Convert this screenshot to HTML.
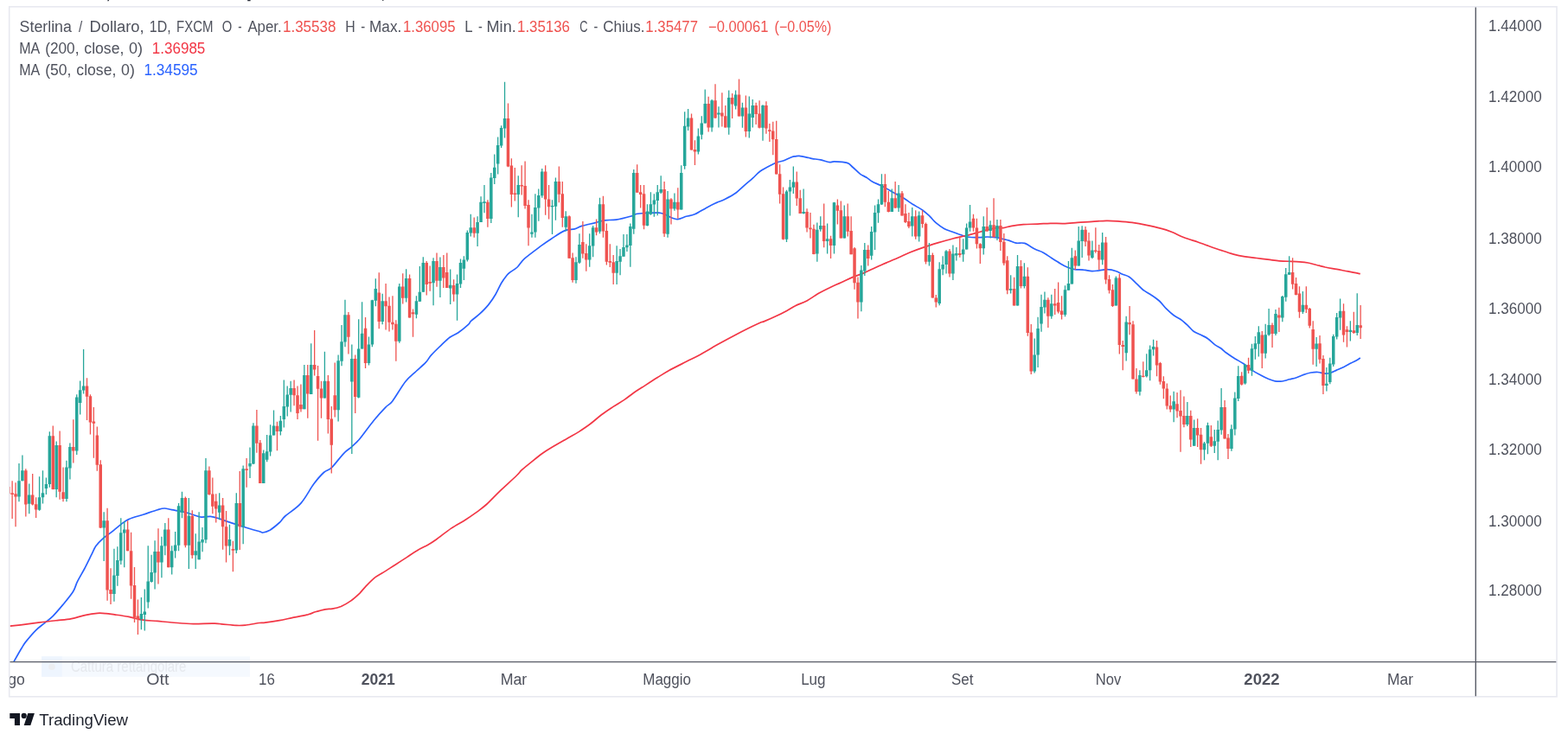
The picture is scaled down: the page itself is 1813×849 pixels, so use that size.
<!DOCTYPE html>
<html lang="it"><head><meta charset="utf-8"><title>Sterlina / Dollaro, 1D, FXCM</title>
<style>
html,body{margin:0;padding:0;background:#fff;}
body{width:1813px;height:849px;overflow:hidden;}
svg{display:block;}
.t{font-family:"Liberation Sans",sans-serif;}
</style></head><body>
<svg width="1813" height="849" viewBox="0 0 1813 849">
<rect width="1813" height="849" fill="#fff"/>
<path d="M124.6 0h1.6l-.6 1.3h-1.4zM286.2 0h3.4v1.2h-3.4zM442.2 0h1.2v.9h-1.2z" fill="#2a2e39"/>
<rect x="10.7" y="7.8" width="1789.3" height="798" fill="none" stroke="#e8e9f0" stroke-width="1.6"/>
<rect x="48" y="759.3" width="241" height="23.5" fill="#f5f9fe"/>
<rect x="48" y="759.3" width="23.7" height="23.5" fill="#eef5fe"/>
<circle cx="60" cy="771.3" r="3.8" fill="#eceef1"/>
<text y="776.9" class="t" font-size="17.6"><tspan x="81.95" textLength="133.48" lengthAdjust="spacingAndGlyphs" fill="#e6e9ee">Cattura rettangolare</tspan></text>
<defs><clipPath id="c"><rect x="11.5" y="8.6" width="1694.1" height="756.3"/></clipPath><clipPath id="d"><rect x="11.5" y="766.3" width="60" height="39"/></clipPath></defs>
<g clip-path="url(#c)">
<path d="M14.5 768.0C16.2 765.0 22.2 754.3 24.8 750.0C27.4 745.7 27.0 745.9 29.8 742.4C32.6 738.9 37.8 732.7 41.4 729.1C45.0 725.5 48.0 723.6 51.3 720.9C54.6 718.1 57.6 716.2 61.2 712.6C64.8 709.0 68.9 704.1 72.8 699.4C76.7 694.7 81.6 688.9 84.4 684.5C87.2 680.1 87.2 677.3 89.4 672.9C91.6 668.5 94.8 663.2 97.6 658.0C100.3 652.8 103.7 645.8 105.9 641.4C108.1 637.0 108.7 634.6 110.9 631.5C113.1 628.4 116.3 625.3 119.1 622.8C121.8 620.3 123.8 619.5 127.4 616.7C131.0 613.9 137.1 608.6 140.7 605.9C144.3 603.2 144.8 602.4 148.9 600.6C153.0 598.8 160.0 597.0 165.5 595.2C171.0 593.4 177.9 590.9 182.0 589.7C186.1 588.5 187.5 588.0 190.3 588.0C193.1 588.0 194.5 588.9 198.6 589.7C202.7 590.5 209.6 591.3 215.1 592.7C220.6 594.1 227.0 597.2 231.7 598.0C236.4 598.8 240.0 597.1 243.3 597.3C246.6 597.5 247.9 598.2 251.5 599.3C255.1 600.4 259.8 602.2 264.8 603.9C269.8 605.5 275.4 607.4 281.3 609.2C287.2 611.0 296.2 613.6 300.0 614.7C303.8 615.8 302.1 616.2 304.1 616.0C306.0 615.9 308.3 615.5 311.5 613.6C314.7 611.6 320.1 607.2 323.1 604.5C326.1 601.7 325.6 600.7 329.7 597.0C333.9 593.3 342.4 588.3 347.9 582.1C353.4 575.9 358.4 565.7 362.8 559.8C367.2 553.9 370.9 549.7 374.4 546.5C377.8 543.4 379.6 544.5 383.5 540.8C387.4 537.0 393.7 528.2 397.6 524.3C401.4 520.3 403.6 519.6 406.7 516.8C409.7 514.0 411.5 512.8 415.8 507.7C420.0 502.6 427.3 492.3 432.3 486.2C437.3 480.1 442.0 475.0 445.6 471.3C449.1 467.6 450.0 468.8 453.8 463.9C457.7 458.9 464.2 447.2 468.7 441.5C473.3 435.8 477.2 433.2 481.1 429.5C485.1 425.8 489.4 422.3 492.3 419.2C495.2 416.1 495.5 414.2 498.5 410.9C501.5 407.6 506.5 402.7 510.1 399.3C513.7 395.8 516.7 392.6 520.0 390.2C523.3 387.8 526.4 387.2 529.9 384.7C533.5 382.2 539.0 377.6 541.5 375.3C544.0 373.0 542.6 373.2 544.8 371.2C547.0 369.1 551.5 366.0 554.8 362.9C558.1 359.8 561.7 356.3 564.7 352.6C567.7 348.9 570.5 344.8 573.0 340.5C575.5 336.3 577.6 331.0 579.8 327.3C582.0 323.5 584.5 320.3 586.2 318.2C587.9 316.1 587.9 316.4 589.9 314.8C591.9 313.3 595.4 311.6 598.2 309.0C601.0 306.4 601.8 303.3 606.5 299.1C611.2 295.0 621.1 287.8 626.3 283.9C631.6 280.1 633.5 278.8 637.9 276.0C642.3 273.1 648.4 268.7 652.8 266.9C657.2 265.0 661.1 265.8 664.4 264.9C667.7 264.0 668.8 262.6 672.7 261.4C676.5 260.2 683.1 258.9 687.6 257.8C692.0 256.7 695.0 255.4 699.1 254.8C703.3 254.2 707.4 254.9 712.4 254.1C717.3 253.4 725.1 251.4 728.9 250.3C732.8 249.2 732.8 248.2 735.6 247.5C738.3 246.9 741.1 246.7 745.5 246.5C749.9 246.3 757.9 245.8 762.0 246.2C766.2 246.6 767.8 247.7 770.3 248.7C772.8 249.6 774.7 251.2 776.9 252.0C779.1 252.8 780.8 253.9 783.5 253.6C786.3 253.4 790.2 251.3 793.5 250.3C796.8 249.4 799.5 249.5 803.4 247.8C807.3 246.2 812.5 242.6 816.6 240.4C820.8 238.2 824.6 236.3 828.2 234.6C831.8 233.0 834.3 232.5 838.1 230.5C842.0 228.5 847.5 225.5 851.4 222.7C855.2 219.9 858.1 216.7 861.3 213.9C864.5 211.1 867.6 208.6 870.6 205.9C873.6 203.2 875.7 200.4 879.4 197.8C883.1 195.2 889.3 192.1 892.6 190.4C896.0 188.6 897.3 188.2 899.5 187.5C901.8 186.7 903.7 186.8 906.3 185.8C908.9 184.8 913.0 182.5 915.3 181.7C917.5 180.9 918.2 181.0 919.6 180.8C921.1 180.6 921.5 180.2 924.1 180.4C926.7 180.7 932.6 182.0 935.1 182.5C937.7 183.1 937.2 183.2 939.5 183.6C941.8 184.0 945.6 184.2 948.9 184.9C952.2 185.6 956.6 187.3 959.2 187.6C961.9 188.0 961.2 186.8 964.6 186.9C968.0 187.0 975.9 187.3 979.5 188.4C983.1 189.5 983.6 191.4 986.1 193.5C988.6 195.6 991.8 199.2 994.4 201.1C997.0 203.1 999.4 203.7 1001.9 205.3C1004.3 206.8 1006.0 208.7 1008.9 210.3C1011.7 211.9 1015.1 212.8 1018.9 214.8C1022.8 216.7 1027.8 219.7 1032.2 222.2C1036.6 224.7 1041.5 227.3 1045.4 229.6C1049.3 232.0 1051.8 234.0 1055.3 236.3C1058.9 238.5 1063.6 240.9 1066.9 243.2C1070.2 245.6 1072.7 248.0 1075.2 250.3C1077.7 252.7 1079.1 255.1 1081.8 257.4C1084.6 259.8 1088.7 262.7 1091.7 264.4C1094.8 266.1 1097.3 266.7 1100.0 267.7C1102.8 268.8 1105.3 269.6 1108.3 270.7C1111.3 271.7 1114.4 273.3 1118.2 274.0C1122.1 274.7 1127.6 274.7 1131.5 274.7C1135.3 274.7 1138.1 274.0 1141.4 274.0C1144.7 274.0 1148.0 274.2 1151.3 274.7C1154.6 275.1 1158.7 276.2 1161.2 276.8C1163.8 277.4 1164.3 277.4 1166.6 278.1C1168.9 278.8 1171.9 280.6 1174.9 281.1C1177.9 281.7 1181.2 280.3 1184.8 281.4C1188.4 282.6 1192.8 286.3 1196.4 288.1C1200.0 289.9 1203.0 290.4 1206.3 292.2C1209.6 294.0 1213.0 296.7 1216.3 298.8C1219.6 300.9 1223.2 303.2 1226.2 304.9C1229.2 306.7 1231.7 308.1 1234.5 309.2C1237.2 310.3 1239.7 311.1 1242.7 311.6C1245.8 312.0 1249.4 311.7 1252.7 312.1C1256.0 312.4 1259.6 313.6 1262.6 313.7C1265.6 313.8 1267.8 313.2 1270.9 312.9C1273.9 312.5 1277.5 311.4 1280.8 311.6C1284.1 311.7 1288.0 312.8 1290.7 313.7C1293.5 314.6 1294.9 315.9 1297.3 317.0C1299.8 318.1 1302.9 318.5 1305.6 320.3C1308.4 322.1 1311.1 325.2 1313.9 327.8C1316.7 330.3 1319.4 333.6 1322.2 335.7C1324.9 337.9 1327.4 338.6 1330.4 340.7C1333.5 342.7 1337.3 345.2 1340.4 348.0C1343.4 350.7 1345.9 354.5 1348.6 357.2C1351.4 360.0 1354.2 362.5 1356.9 364.5C1359.7 366.6 1362.4 367.5 1365.2 369.5C1368.0 371.5 1371.0 374.3 1373.5 376.6C1376.0 378.9 1377.6 381.4 1380.1 383.2C1382.6 385.0 1385.6 385.9 1388.4 387.3C1391.1 388.7 1393.9 389.8 1396.6 391.8C1399.4 393.7 1402.4 397.1 1404.9 398.9C1407.4 400.7 1409.3 401.1 1411.5 402.7C1413.7 404.3 1415.4 406.3 1418.1 408.3C1420.9 410.4 1424.8 412.9 1428.1 414.9C1431.4 417.0 1434.7 418.5 1438.0 420.8C1441.3 423.0 1444.5 426.2 1447.8 428.4C1451.1 430.6 1454.7 432.3 1457.8 433.9C1460.8 435.5 1463.3 436.8 1466.0 438.0C1468.8 439.1 1471.6 440.3 1474.3 440.8C1477.1 441.3 1479.8 441.3 1482.6 441.0C1485.4 440.6 1488.1 439.5 1490.9 438.8C1493.6 438.1 1496.4 437.6 1499.1 436.7C1501.9 435.8 1504.7 434.3 1507.4 433.4C1510.2 432.4 1512.9 431.5 1515.7 431.0C1518.5 430.6 1521.2 430.3 1524.0 430.5C1526.7 430.7 1529.8 432.1 1532.2 432.2C1534.7 432.3 1536.7 431.7 1538.9 431.0C1541.1 430.3 1543.0 429.2 1545.5 428.1C1548.0 427.0 1551.0 425.7 1553.8 424.4C1556.5 423.1 1559.5 421.4 1562.0 420.1C1564.5 418.8 1566.9 417.8 1568.6 416.8C1570.4 415.8 1572.1 414.5 1572.8 414.0" fill="none" stroke="#2962ff" stroke-width="1.7" stroke-linejoin="round"/>
<path d="M11.6 724.2C15.2 723.8 26.8 722.5 33.1 721.7C39.4 720.9 44.1 720.2 49.6 719.5C55.1 718.8 60.7 718.2 66.2 717.6C71.7 717.0 77.2 716.7 82.7 715.6C88.2 714.5 94.3 712.3 99.3 711.3C104.3 710.2 108.6 709.6 112.5 709.3C116.4 709.0 119.2 709.3 122.5 709.6C125.8 709.9 128.0 710.3 132.4 710.9C136.8 711.5 143.4 712.3 148.9 713.4C154.4 714.5 160.0 716.4 165.5 717.2C171.0 718.0 176.5 717.9 182.0 718.4C187.5 718.9 191.7 719.5 198.6 720.0C205.5 720.5 215.1 721.5 223.4 721.7C231.7 721.9 239.9 720.9 248.2 721.2C256.5 721.5 266.9 723.1 273.0 723.4C279.1 723.7 280.1 723.5 284.6 723.0C289.1 722.5 296.3 721.0 300.0 720.5C303.7 720.0 302.7 720.7 306.5 720.2C310.4 719.7 317.6 718.7 323.1 717.7C328.6 716.7 334.1 715.2 339.6 714.1C345.2 712.9 352.1 711.8 356.2 710.8C360.3 709.7 361.2 708.8 364.5 707.8C367.8 706.8 372.7 705.4 376.0 704.8C379.4 704.2 381.3 704.7 384.3 704.1C387.4 703.6 390.7 703.0 394.3 701.5C397.8 699.9 402.3 697.4 405.8 694.9C409.4 692.3 413.0 688.9 415.8 686.3C418.5 683.6 419.4 681.9 422.4 678.8C425.4 675.7 430.1 670.8 434.0 667.7C437.8 664.7 441.7 663.0 445.6 660.6C449.4 658.2 453.0 655.8 457.1 653.2C461.3 650.5 466.2 647.3 470.4 644.6C474.5 641.9 477.8 639.4 482.0 637.0C486.1 634.5 491.3 632.2 495.2 630.0C499.1 627.8 500.7 626.6 505.1 623.5C509.5 620.3 516.2 614.8 521.7 611.1C527.2 607.4 533.3 604.3 538.2 601.2C543.2 598.0 547.3 595.1 551.5 592.1C555.6 589.0 558.6 587.0 563.0 583.0C567.5 579.0 572.2 573.6 577.9 568.1C583.7 562.6 593.2 554.1 597.4 550.0C601.6 545.9 600.3 546.4 603.2 543.7C606.1 541.1 610.9 537.2 614.8 534.1C618.6 531.0 622.5 527.8 626.3 525.0C630.2 522.3 633.2 520.4 637.9 517.6C642.6 514.7 649.2 511.0 654.5 508.0C659.7 504.9 664.7 502.3 669.4 499.4C674.0 496.4 678.2 493.6 682.6 490.3C687.0 486.9 691.4 482.8 695.8 479.5C700.2 476.2 704.7 473.3 709.1 470.4C713.5 467.5 718.5 464.7 722.3 462.1C726.2 459.5 728.4 457.4 732.2 454.7C736.1 452.0 740.8 449.1 745.5 446.1C750.2 443.0 755.7 439.4 760.4 436.5C765.1 433.6 768.1 431.6 773.6 428.5C779.1 425.5 787.4 421.4 793.5 418.3C799.5 415.2 803.7 413.5 810.0 410.0C816.4 406.5 824.4 401.6 831.5 397.6C838.7 393.6 846.7 389.3 853.0 386.0C859.4 382.6 865.3 379.7 869.8 377.5C874.3 375.3 877.8 373.7 880.0 372.7C882.3 371.8 880.5 373.0 883.2 371.9C886.0 370.8 892.1 368.2 896.5 366.1C900.9 364.1 905.9 361.6 909.7 359.5C913.6 357.4 915.8 355.6 919.6 353.7C923.5 351.8 928.5 350.3 932.9 347.9C937.3 345.6 941.7 342.2 946.1 339.6C950.5 337.1 954.9 334.8 959.4 332.7C963.8 330.5 968.2 328.8 972.6 326.7C977.0 324.7 981.4 322.5 985.8 320.6C990.2 318.8 994.7 317.5 999.1 315.6C1003.5 313.8 1007.9 311.5 1012.3 309.5C1016.7 307.5 1021.1 305.5 1025.6 303.6C1030.0 301.6 1034.4 299.9 1038.8 297.9C1043.2 296.0 1047.1 294.0 1052.0 292.0C1057.0 290.0 1063.1 287.8 1068.6 285.9C1074.1 284.0 1079.6 282.3 1085.1 280.6C1090.6 279.0 1096.2 277.4 1101.7 276.0C1107.2 274.6 1112.7 273.7 1118.2 272.3C1123.7 271.0 1129.3 269.2 1134.8 267.7C1140.3 266.2 1147.1 264.3 1151.3 263.6C1155.5 262.9 1156.9 264.0 1160.0 263.6C1163.1 263.2 1166.1 261.9 1169.9 261.3C1173.8 260.6 1178.2 260.0 1183.2 259.6C1188.1 259.2 1194.5 259.3 1199.7 259.1C1205.0 258.9 1209.6 258.4 1214.6 258.3C1219.6 258.2 1224.3 258.7 1229.5 258.6C1234.7 258.5 1240.5 257.8 1246.0 257.4C1251.6 257.1 1257.1 256.6 1262.6 256.3C1268.1 255.9 1274.2 255.4 1279.1 255.3C1284.1 255.2 1287.4 255.4 1292.4 255.8C1297.3 256.2 1303.4 256.7 1308.9 257.4C1314.4 258.2 1320.0 259.2 1325.5 260.3C1331.0 261.4 1337.1 262.7 1342.0 264.1C1347.0 265.4 1350.9 266.8 1355.3 268.5C1359.7 270.3 1363.6 272.6 1368.5 274.5C1373.5 276.4 1380.3 278.4 1385.0 280.0C1389.6 281.6 1391.9 282.5 1396.5 284.1C1401.2 285.8 1408.1 288.3 1413.1 289.9C1418.1 291.6 1421.9 292.9 1426.3 294.1C1430.7 295.2 1435.2 296.1 1439.6 296.9C1444.0 297.6 1448.4 298.0 1452.8 298.5C1457.2 299.1 1461.6 299.6 1466.0 300.2C1470.5 300.7 1474.9 301.5 1479.3 301.8C1483.7 302.2 1488.7 302.2 1492.5 302.3C1496.4 302.5 1499.1 302.6 1502.5 302.8C1505.8 303.1 1509.1 303.4 1512.4 304.0C1515.7 304.6 1519.0 305.6 1522.3 306.5C1525.6 307.3 1528.4 308.1 1532.2 309.0C1536.1 309.8 1541.1 310.6 1545.5 311.4C1549.9 312.3 1554.2 313.0 1558.7 313.9C1563.3 314.8 1570.4 316.3 1572.8 316.7" fill="none" stroke="#f23645" stroke-width="1.7" stroke-linejoin="round"/>
<path d="M21.99 536.1V580.3M25.91 526.5V556.3M33.77 559.6V594.3M45.55 551.3V590.7M49.48 544.3V582.4M53.40 552.6V572.0M57.33 499.2V563.7M65.18 510.5V575.3M76.96 532.8V580.3M80.89 512.4V554.6M88.75 456.2V526.0M92.67 440.5V479.4M96.60 404.1V455.4M120.16 592.3V648.9M131.94 634.8V695.7M135.87 632.3V677.8M139.80 599.3V653.0M143.72 602.9V656.3M163.36 691.1V728.3M167.29 681.5V729.5M171.21 631.2V703.5M175.14 641.8V673.7M179.07 625.2V681.5M186.92 620.8V668.2M190.85 605.1V642.3M198.70 631.2V664.6M202.63 615.0V645.6M206.56 581.9V637.3M210.48 568.7V599.3M218.34 576.1V658.0M226.19 617.3V658.0M230.12 592.3V647.2M234.04 610.0V638.2M237.97 530.1V628.3M253.68 570.3V601.3M265.46 606.7V642.3M273.31 570.3V640.1M281.17 538.4V629.3M289.02 517.4V553.0M292.95 489.3V537.0M304.73 520.6V559.0M308.66 503.1V534.2M312.59 491.2V527.6M316.51 474.6V503.6M324.37 480.9V503.6M328.29 439.5V494.5M332.22 446.5V481.6M336.15 440.7V476.6M351.86 422.0V473.3M359.71 397.3V456.1M375.42 406.7V460.5M391.12 410.5V487.5M395.05 376.1V423.3M398.98 346.8V401.3M406.83 398.5V525.1M414.69 369.2V460.5M418.61 349.3V403.4M426.47 389.4V422.5M430.39 346.8V401.3M434.32 322.3V354.3M442.18 339.7V375.3M461.81 328.1V396.8M469.66 311.3V349.6M481.45 342.2V368.2M485.37 307.9V348.8M489.30 297.2V337.7M501.08 298.3V353.3M508.93 297.5V343.9M520.72 311.6V352.1M528.57 317.4V370.8M532.50 299.5V333.1M536.42 296.2V324.0M540.35 266.4V302.5M544.28 247.8V273.5M552.13 250.3V285.1M556.06 227.2V256.9M559.99 213.9V246.2M567.84 199.9V258.1M571.77 178.4V213.1M575.69 158.5V201.6M579.62 145.3V170.9M583.55 94.8V159.4M599.26 203.2V251.2M614.96 247.8V274.7M618.89 224.3V274.7M622.82 218.4V255.8M626.75 194.9V228.8M638.53 231.3V271.0M642.45 205.6V254.8M654.23 244.2V267.4M666.01 297.2V327.7M669.94 270.2V304.9M681.72 270.2V308.7M685.65 261.1V297.2M693.50 228.8V270.2M713.14 284.3V328.9M717.07 287.9V318.2M720.99 271.0V296.7M724.92 271.0V290.9M728.85 258.6V308.7M732.77 196.1V270.7M748.48 236.3V261.4M752.41 222.2V248.7M756.34 224.3V250.8M760.26 213.9V249.2M764.19 203.2V223.9M772.04 221.0V274.7M779.90 223.4V243.7M787.75 191.3V242.6M791.68 129.2V195.8M795.61 125.9V151.1M807.39 148.6V178.4M811.31 134.2V161.3M815.24 103.4V142.8M823.10 115.0V152.4M830.95 123.3V147.4M842.73 104.4V155.7M850.58 104.4V126.6M858.44 118.8V147.8M866.29 111.4V159.4M870.22 115.0V147.4M882.00 121.3V162.7M909.49 219.7V280.1M913.42 208.1V249.5M917.34 192.4V223.9M929.12 218.4V247.5M944.83 257.4V302.8M948.76 250.3V267.7M956.61 258.6V293.4M964.47 233.8V293.4M976.25 237.6V275.6M995.88 307.1V360.3M999.81 280.9V319.0M1007.66 261.9V300.5M1011.59 237.6V288.9M1015.52 230.5V257.8M1019.45 201.2V237.1M1031.23 218.4V244.9M1039.08 213.9V244.9M1054.79 239.9V273.5M1062.64 244.5V279.6M1074.42 280.9V307.4M1086.20 303.2V353.2M1090.13 296.2V318.2M1094.06 289.2V316.5M1101.91 283.4V323.9M1105.84 285.9V301.6M1113.69 276.3V302.8M1117.62 258.6V288.4M1121.55 237.1V267.7M1137.25 250.3V294.5M1145.11 255.3V275.6M1152.96 254.1V278.0M1168.67 318.2V339.4M1176.52 295.0V353.4M1184.38 304.3V333.6M1196.16 391.4V431.5M1200.09 366.7V424.9M1204.01 340.7V383.7M1207.94 337.4V362.5M1215.79 340.7V368.8M1231.50 330.3V366.2M1235.43 302.1V335.7M1239.36 286.7V328.6M1247.21 261.9V307.6M1251.14 261.3V298.0M1262.92 278.5V299.3M1274.70 269.0V306.3M1290.41 319.5V353.4M1302.19 365.8V417.6M1317.90 428.2V457.6M1325.75 409.3V436.5M1329.68 399.4V440.3M1333.61 392.8V411.6M1357.17 452.7V488.2M1372.88 465.1V492.9M1380.73 485.4V515.7M1392.51 511.1V532.3M1396.44 488.7V525.2M1404.29 497.0V524.0M1408.22 486.6V532.3M1412.14 449.0V502.8M1423.93 491.2V521.8M1427.85 453.5V503.6M1431.78 423.2V463.9M1439.63 420.9V444.7M1447.49 397.8V434.7M1451.41 388.9V415.7M1455.34 377.3V412.4M1463.20 374.7V414.4M1467.12 356.9V388.4M1474.98 358.1V387.9M1482.83 342.1V372.3M1486.76 310.1V348.7M1490.68 296.2V317.7M1506.39 337.1V363.1M1522.10 390.0V423.9M1533.88 425.1V452.6M1537.81 413.7V444.3M1541.74 386.7V423.9M1545.66 361.9V392.5M1549.59 345.4V381.8M1561.37 371.3V394.5M1569.22 339.2V387.9" stroke="#26a69a" stroke-width="1.3" fill="none"/>
<path d="M20.24 556.3h3.5V574.5h-3.5zM24.16 544.3h3.5V556.3h-3.5zM32.02 572.5h3.5V582.7h-3.5zM43.80 575.3h3.5V589.7h-3.5zM47.73 570.3h3.5V575.3h-3.5zM51.65 559.9h3.5V564.9h-3.5zM55.58 504.2h3.5V559.9h-3.5zM63.43 514.9h3.5V565.9h-3.5zM75.21 540.5h3.5V576.9h-3.5zM79.14 517.0h3.5V541.4h-3.5zM87.00 459.5h3.5V521.5h-3.5zM90.92 451.2h3.5V466.1h-3.5zM94.85 446.6h3.5V451.6h-3.5zM118.41 602.3h3.5V610.5h-3.5zM130.19 665.4h3.5V687.0h-3.5zM134.12 648.1h3.5V665.9h-3.5zM138.05 616.3h3.5V648.4h-3.5zM141.97 612.5h3.5V616.6h-3.5zM161.61 710.1h3.5V715.9h-3.5zM165.54 707.6h3.5V710.9h-3.5zM169.46 672.6h3.5V696.4h-3.5zM173.39 662.1h3.5V672.9h-3.5zM177.32 638.1h3.5V662.6h-3.5zM185.17 631.2h3.5V650.5h-3.5zM189.10 612.5h3.5V631.5h-3.5zM196.95 637.3h3.5V656.3h-3.5zM200.88 630.5h3.5V637.3h-3.5zM204.81 585.2h3.5V630.7h-3.5zM208.73 576.1h3.5V592.7h-3.5zM216.59 596.8h3.5V630.7h-3.5zM224.44 637.3h3.5V642.3h-3.5zM228.37 626.5h3.5V647.2h-3.5zM232.29 624.1h3.5V627.4h-3.5zM236.22 544.3h3.5V624.3h-3.5zM251.93 584.4h3.5V592.7h-3.5zM263.71 624.1h3.5V631.6h-3.5zM271.56 581.9h3.5V636.5h-3.5zM279.42 542.2h3.5V609.2h-3.5zM287.27 536.1h3.5V539.4h-3.5zM291.20 492.6h3.5V536.4h-3.5zM302.98 524.3h3.5V559.0h-3.5zM306.91 522.3h3.5V531.7h-3.5zM310.84 503.6h3.5V522.6h-3.5zM314.76 492.5h3.5V503.6h-3.5zM322.62 486.7h3.5V499.1h-3.5zM326.54 470.1h3.5V484.9h-3.5zM330.47 456.4h3.5V470.5h-3.5zM334.40 449.0h3.5V456.7h-3.5zM350.11 434.1h3.5V473.3h-3.5zM357.96 422.1h3.5V456.1h-3.5zM373.67 440.7h3.5V460.5h-3.5zM389.38 417.2h3.5V474.3h-3.5zM393.30 395.2h3.5V417.8h-3.5zM397.23 364.2h3.5V395.6h-3.5zM405.08 415.0h3.5V441.5h-3.5zM412.94 403.4h3.5V459.7h-3.5zM416.86 385.7h3.5V403.4h-3.5zM424.72 398.5h3.5V420.0h-3.5zM428.64 347.2h3.5V398.5h-3.5zM432.57 333.9h3.5V347.7h-3.5zM440.43 348.3h3.5V372.0h-3.5zM460.06 331.4h3.5V394.7h-3.5zM467.91 322.0h3.5V344.7h-3.5zM479.70 348.3h3.5V363.7h-3.5zM483.62 337.7h3.5V348.8h-3.5zM487.55 304.1h3.5V337.7h-3.5zM499.33 302.1h3.5V327.3h-3.5zM507.18 309.1h3.5V324.8h-3.5zM518.97 329.8h3.5V333.4h-3.5zM526.82 328.1h3.5V340.5h-3.5zM530.75 304.1h3.5V328.5h-3.5zM534.67 300.5h3.5V310.8h-3.5zM538.60 269.0h3.5V300.5h-3.5zM542.53 263.2h3.5V269.4h-3.5zM550.38 256.9h3.5V269.7h-3.5zM554.31 233.8h3.5V256.9h-3.5zM558.24 233.3h3.5V234.9h-3.5zM566.09 205.6h3.5V253.1h-3.5zM570.02 193.8h3.5V206.0h-3.5zM573.94 168.0h3.5V189.5h-3.5zM577.87 148.1h3.5V168.5h-3.5zM581.80 137.0h3.5V148.6h-3.5zM597.51 213.9h3.5V225.0h-3.5zM613.21 268.5h3.5V270.7h-3.5zM617.14 239.9h3.5V268.5h-3.5zM621.07 226.0h3.5V240.4h-3.5zM625.00 198.5h3.5V226.3h-3.5zM636.78 237.9h3.5V239.2h-3.5zM640.70 210.1h3.5V238.7h-3.5zM652.48 250.3h3.5V262.7h-3.5zM664.26 303.3h3.5V323.9h-3.5zM668.19 282.9h3.5V303.8h-3.5zM679.97 284.3h3.5V300.5h-3.5zM683.90 263.2h3.5V284.6h-3.5zM691.75 236.3h3.5V267.7h-3.5zM711.39 302.1h3.5V315.7h-3.5zM715.32 296.2h3.5V302.8h-3.5zM719.24 285.9h3.5V296.7h-3.5zM723.17 283.4h3.5V286.2h-3.5zM727.10 261.9h3.5V283.9h-3.5zM731.02 199.9h3.5V264.7h-3.5zM746.73 244.5h3.5V261.1h-3.5zM750.66 236.3h3.5V247.8h-3.5zM754.59 231.6h3.5V236.6h-3.5zM758.51 222.2h3.5V232.1h-3.5zM762.44 218.9h3.5V222.7h-3.5zM770.29 230.5h3.5V270.7h-3.5zM778.15 233.8h3.5V241.6h-3.5zM786.00 199.9h3.5V242.6h-3.5zM789.93 145.8h3.5V192.1h-3.5zM793.86 136.5h3.5V146.5h-3.5zM805.64 157.4h3.5V175.6h-3.5zM809.56 142.5h3.5V155.7h-3.5zM813.49 120.0h3.5V142.5h-3.5zM821.35 116.3h3.5V147.4h-3.5zM829.20 130.4h3.5V132.6h-3.5zM840.98 113.0h3.5V147.4h-3.5zM848.83 109.4h3.5V122.6h-3.5zM856.69 124.6h3.5V134.5h-3.5zM864.54 131.6h3.5V151.9h-3.5zM868.47 122.1h3.5V135.9h-3.5zM880.25 122.1h3.5V147.8h-3.5zM907.74 221.4h3.5V276.8h-3.5zM911.67 216.4h3.5V221.4h-3.5zM915.59 210.6h3.5V216.7h-3.5zM927.37 244.9h3.5V247.0h-3.5zM943.08 265.7h3.5V293.4h-3.5zM947.01 261.1h3.5V265.2h-3.5zM954.86 276.3h3.5V279.0h-3.5zM962.72 234.3h3.5V283.9h-3.5zM974.50 250.3h3.5V275.6h-3.5zM994.13 312.4h3.5V349.6h-3.5zM998.06 288.9h3.5V313.5h-3.5zM1005.91 268.0h3.5V295.8h-3.5zM1009.84 245.9h3.5V268.5h-3.5zM1013.77 236.3h3.5V246.2h-3.5zM1017.70 213.1h3.5V236.6h-3.5zM1029.48 229.3h3.5V244.9h-3.5zM1037.33 223.4h3.5V240.4h-3.5zM1053.04 250.3h3.5V261.4h-3.5zM1060.89 249.2h3.5V273.5h-3.5zM1072.67 295.0h3.5V302.8h-3.5zM1084.45 311.2h3.5V350.9h-3.5zM1088.38 306.1h3.5V311.6h-3.5zM1092.31 290.5h3.5V306.1h-3.5zM1100.16 293.4h3.5V316.5h-3.5zM1104.09 292.9h3.5V295.5h-3.5zM1111.94 288.4h3.5V294.2h-3.5zM1115.87 263.6h3.5V288.4h-3.5zM1119.80 256.5h3.5V263.6h-3.5zM1135.50 261.9h3.5V287.2h-3.5zM1143.36 260.3h3.5V266.9h-3.5zM1151.21 261.1h3.5V274.3h-3.5zM1166.92 334.1h3.5V335.7h-3.5zM1174.77 307.9h3.5V353.4h-3.5zM1182.63 319.8h3.5V331.1h-3.5zM1194.41 410.5h3.5V429.5h-3.5zM1198.34 379.9h3.5V410.5h-3.5zM1202.26 355.1h3.5V374.4h-3.5zM1206.19 346.8h3.5V355.6h-3.5zM1214.04 351.3h3.5V365.8h-3.5zM1229.75 335.2h3.5V363.9h-3.5zM1233.68 328.1h3.5V335.7h-3.5zM1237.61 298.3h3.5V328.6h-3.5zM1245.46 278.5h3.5V307.6h-3.5zM1249.39 265.7h3.5V279.0h-3.5zM1261.17 289.4h3.5V298.0h-3.5zM1272.95 280.6h3.5V300.5h-3.5zM1288.66 321.5h3.5V353.4h-3.5zM1300.44 372.4h3.5V408.3h-3.5zM1316.15 434.1h3.5V453.0h-3.5zM1324.00 428.2h3.5V435.3h-3.5zM1327.93 404.3h3.5V428.2h-3.5zM1331.86 401.0h3.5V404.3h-3.5zM1355.42 464.3h3.5V473.4h-3.5zM1371.12 481.0h3.5V490.9h-3.5zM1378.98 494.9h3.5V515.7h-3.5zM1390.76 512.7h3.5V520.2h-3.5zM1394.69 492.1h3.5V512.7h-3.5zM1402.54 510.3h3.5V515.7h-3.5zM1406.47 497.0h3.5V510.8h-3.5zM1410.39 471.0h3.5V497.5h-3.5zM1422.18 496.2h3.5V519.0h-3.5zM1426.10 460.6h3.5V496.5h-3.5zM1430.03 435.0h3.5V461.1h-3.5zM1437.88 422.1h3.5V443.6h-3.5zM1445.74 403.3h3.5V428.9h-3.5zM1449.66 397.2h3.5V403.8h-3.5zM1453.59 384.3h3.5V397.8h-3.5zM1461.45 387.2h3.5V408.7h-3.5zM1465.37 376.0h3.5V387.2h-3.5zM1473.23 363.1h3.5V385.9h-3.5zM1481.08 342.9h3.5V367.4h-3.5zM1485.01 317.2h3.5V343.7h-3.5zM1488.93 315.1h3.5V317.7h-3.5zM1504.64 352.8h3.5V360.8h-3.5zM1520.35 397.5h3.5V403.8h-3.5zM1532.13 443.8h3.5V445.9h-3.5zM1536.06 420.6h3.5V442.1h-3.5zM1539.99 388.9h3.5V421.4h-3.5zM1543.91 366.9h3.5V389.5h-3.5zM1547.84 359.8h3.5V367.4h-3.5zM1559.62 381.8h3.5V383.9h-3.5zM1567.47 376.0h3.5V385.1h-3.5z" fill="#26a69a"/>
<path d="M10.21 563.0V571.2M14.13 556.3V600.1M18.06 558.2V609.2M29.84 542.2V597.6M37.69 548.0V584.4M41.62 575.3V599.0M61.26 492.6V566.2M69.11 498.4V577.8M73.04 540.5V580.3M84.82 485.2V535.6M100.53 437.2V486.0M104.45 456.2V502.5M108.38 471.1V529.8M112.31 493.4V544.7M116.23 532.3V611.0M124.09 587.7V694.7M128.02 657.2V699.0M147.65 602.3V637.3M151.58 615.8V692.7M155.50 656.0V720.0M159.43 693.6V734.1M182.99 611.2V675.4M194.77 599.3V656.3M214.41 574.5V633.2M222.26 590.2V646.1M241.90 539.4V572.8M245.83 552.6V594.3M249.75 571.2V604.6M257.61 576.1V635.7M261.53 591.0V650.5M269.39 625.8V661.3M277.24 545.0V636.0M285.10 530.1V563.7M296.88 474.1V523.7M300.80 509.0V559.0M320.44 487.8V521.3M340.07 439.5V469.3M344.00 446.5V484.9M347.93 444.5V476.6M355.78 422.0V483.7M363.64 381.9V434.6M367.56 423.0V509.7M371.49 440.7V483.7M379.34 434.1V501.4M383.27 470.0V547.4M387.20 419.5V482.6M402.91 360.9V409.5M410.76 410.5V477.9M422.54 367.0V426.1M438.25 315.2V380.3M446.10 328.1V381.4M450.03 343.4V383.6M453.96 342.2V381.4M457.88 370.3V417.8M465.74 316.2V351.6M473.59 317.4V367.5M477.52 357.6V389.7M493.23 302.1V341.4M497.15 307.4V336.7M505.01 292.5V331.8M512.86 295.0V333.1M516.79 292.5V333.1M524.64 323.2V348.8M548.21 251.5V274.7M563.91 231.3V262.7M587.48 119.6V193.3M591.40 183.3V239.6M595.33 194.1V232.6M603.18 191.3V225.5M607.11 186.6V241.6M611.04 231.3V284.3M630.67 191.3V248.7M634.60 213.9V253.6M646.38 192.4V234.3M650.31 210.1V262.7M658.16 249.2V299.1M662.09 292.5V326.7M673.87 256.1V298.8M677.80 282.3V313.7M689.58 253.6V272.3M697.43 226.8V274.7M701.36 258.6V306.6M705.29 282.3V309.1M709.21 295.0V328.9M736.70 190.3V222.7M740.63 213.9V240.4M744.56 213.9V265.2M768.12 210.1V274.0M775.97 229.3V259.4M783.83 217.2V252.8M799.53 131.6V173.4M803.46 162.3V191.1M819.17 111.7V152.4M827.02 97.3V137.0M834.88 107.2V146.5M838.80 122.1V147.4M846.66 108.1V137.0M854.51 91.5V134.5M862.37 110.5V158.5M874.15 118.8V144.1M878.07 116.3V148.6M885.93 117.2V154.7M889.85 143.1V164.0M893.78 140.8V179.2M897.71 139.8V201.5M901.63 190.3V235.4M905.56 216.4V277.6M921.27 198.5V237.9M925.20 219.7V247.0M933.05 241.2V268.5M936.98 245.9V275.6M940.91 259.8V294.2M952.69 235.4V286.2M960.54 272.7V299.1M968.39 230.5V259.4M972.32 232.6V275.6M980.18 235.4V273.5M984.10 250.3V294.2M988.03 285.9V334.7M991.96 320.6V368.6M1003.74 283.4V307.4M1023.37 201.2V239.2M1027.30 221.0V245.4M1035.15 210.1V240.9M1043.01 221.0V249.5M1046.93 236.3V258.1M1050.86 245.9V264.1M1058.71 243.2V276.8M1066.57 243.2V263.6M1070.50 257.4V305.4M1078.35 292.5V344.6M1082.28 341.0V355.4M1097.98 287.9V320.6M1109.77 273.0V297.8M1125.47 247.8V267.7M1129.40 252.8V287.6M1133.33 281.3V304.9M1141.18 239.9V267.7M1149.04 229.3V274.7M1156.89 254.1V290.0M1160.82 269.9V307.1M1164.74 296.3V340.2M1172.60 320.8V353.4M1180.45 301.0V333.6M1188.31 309.2V388.7M1192.23 374.9V433.1M1211.87 344.3V379.1M1219.72 334.1V363.9M1223.65 326.5V362.5M1227.58 342.3V369.5M1243.28 289.4V312.1M1255.06 261.9V285.1M1258.99 269.0V301.6M1266.85 263.2V292.7M1270.77 283.1V312.1M1278.63 274.0V328.6M1282.55 318.2V339.4M1286.48 329.1V355.1M1294.34 317.0V409.6M1298.26 393.9V428.2M1306.12 353.9V387.3M1310.04 371.3V438.6M1313.97 425.9V455.6M1321.82 418.2V436.5M1337.53 393.9V435.3M1341.46 418.7V444.7M1345.39 435.3V461.3M1349.31 443.6V473.4M1353.24 457.6V476.7M1361.09 454.0V483.3M1365.02 451.2V522.7M1368.95 458.5V494.2M1376.80 474.7V516.9M1384.66 484.3V516.9M1388.58 494.9V536.7M1400.36 492.1V516.9M1416.07 463.1V507.4M1420.00 502.0V530.9M1435.71 430.3V445.7M1443.56 413.8V432.0M1459.27 382.9V426.1M1471.05 373.5V402.1M1478.90 355.8V383.9M1494.61 298.2V334.6M1498.54 321.0V341.6M1502.47 331.3V367.7M1510.32 331.3V361.9M1514.25 356.1V379.6M1518.17 371.3V421.8M1526.03 387.9V420.6M1529.95 411.1V455.9M1553.52 351.2V395.8M1557.44 377.3V401.6M1565.30 360.8V385.9M1573.15 352.9V392.1" stroke="#ef5350" stroke-width="1.3" fill="none"/>
<path d="M8.46 563.0h3.5V571.2h-3.5zM12.38 570.3h3.5V572.0h-3.5zM16.31 571.2h3.5V574.5h-3.5zM28.09 544.3h3.5V583.6h-3.5zM35.94 572.5h3.5V583.6h-3.5zM39.87 583.2h3.5V589.4h-3.5zM59.51 504.2h3.5V565.9h-3.5zM67.36 514.9h3.5V568.7h-3.5zM71.29 569.2h3.5V576.9h-3.5zM83.07 517.0h3.5V521.5h-3.5zM98.78 446.6h3.5V458.7h-3.5zM102.70 458.2h3.5V488.5h-3.5zM106.63 487.6h3.5V489.8h-3.5zM110.56 503.4h3.5V537.7h-3.5zM114.48 537.2h3.5V610.5h-3.5zM122.34 602.3h3.5V682.5h-3.5zM126.27 682.0h3.5V687.0h-3.5zM145.90 612.5h3.5V637.3h-3.5zM149.83 637.3h3.5V677.5h-3.5zM153.75 677.0h3.5V714.3h-3.5zM157.68 712.6h3.5V715.9h-3.5zM181.24 638.1h3.5V650.5h-3.5zM193.02 612.5h3.5V656.3h-3.5zM212.66 576.1h3.5V630.7h-3.5zM220.51 596.8h3.5V642.3h-3.5zM240.15 544.3h3.5V572.0h-3.5zM244.08 571.5h3.5V585.7h-3.5zM248.00 579.8h3.5V588.5h-3.5zM255.86 584.4h3.5V609.2h-3.5zM259.78 609.2h3.5V631.6h-3.5zM267.64 634.9h3.5V636.7h-3.5zM275.49 581.9h3.5V609.2h-3.5zM283.35 542.2h3.5V543.9h-3.5zM295.13 492.6h3.5V512.8h-3.5zM299.05 512.3h3.5V559.0h-3.5zM318.69 492.8h3.5V499.1h-3.5zM338.32 449.0h3.5V457.2h-3.5zM342.25 457.2h3.5V477.9h-3.5zM346.18 468.0h3.5V473.3h-3.5zM354.03 434.1h3.5V455.6h-3.5zM361.89 422.1h3.5V427.4h-3.5zM365.81 434.9h3.5V449.8h-3.5zM369.74 449.5h3.5V460.5h-3.5zM377.59 440.7h3.5V484.9h-3.5zM381.52 484.5h3.5V514.7h-3.5zM385.45 457.2h3.5V474.3h-3.5zM401.16 364.2h3.5V389.7h-3.5zM409.01 415.0h3.5V458.9h-3.5zM420.79 379.8h3.5V420.0h-3.5zM436.50 338.4h3.5V372.0h-3.5zM444.35 348.3h3.5V354.3h-3.5zM448.28 353.8h3.5V372.8h-3.5zM452.21 372.8h3.5V375.3h-3.5zM456.13 374.8h3.5V394.7h-3.5zM463.99 331.4h3.5V344.7h-3.5zM471.84 322.0h3.5V367.5h-3.5zM475.77 361.2h3.5V363.2h-3.5zM491.48 304.1h3.5V329.0h-3.5zM495.40 326.1h3.5V327.8h-3.5zM503.26 302.1h3.5V324.8h-3.5zM511.11 309.1h3.5V321.5h-3.5zM515.04 314.9h3.5V333.1h-3.5zM522.89 330.1h3.5V340.5h-3.5zM546.46 263.2h3.5V269.7h-3.5zM562.16 233.8h3.5V253.1h-3.5zM585.73 137.0h3.5V192.5h-3.5zM589.65 191.6h3.5V225.0h-3.5zM593.58 223.4h3.5V225.0h-3.5zM601.43 213.9h3.5V215.6h-3.5zM605.36 215.1h3.5V237.9h-3.5zM609.29 237.1h3.5V263.6h-3.5zM628.92 198.5h3.5V230.5h-3.5zM632.85 230.5h3.5V239.2h-3.5zM644.63 210.1h3.5V224.7h-3.5zM648.56 224.3h3.5V252.0h-3.5zM656.41 250.3h3.5V298.8h-3.5zM660.34 298.3h3.5V323.9h-3.5zM672.12 280.1h3.5V293.4h-3.5zM676.05 292.9h3.5V300.5h-3.5zM687.83 263.2h3.5V268.5h-3.5zM695.68 236.3h3.5V267.4h-3.5zM699.61 266.9h3.5V302.8h-3.5zM703.54 302.1h3.5V303.8h-3.5zM707.46 303.3h3.5V315.7h-3.5zM734.95 199.9h3.5V222.7h-3.5zM738.88 222.2h3.5V225.0h-3.5zM742.81 224.3h3.5V260.8h-3.5zM766.37 218.9h3.5V270.2h-3.5zM774.22 230.5h3.5V241.6h-3.5zM782.08 233.8h3.5V242.6h-3.5zM797.78 136.5h3.5V173.4h-3.5zM801.71 172.9h3.5V175.6h-3.5zM817.42 120.0h3.5V147.4h-3.5zM825.27 116.3h3.5V136.5h-3.5zM833.13 130.4h3.5V134.5h-3.5zM837.05 134.2h3.5V147.4h-3.5zM844.91 113.0h3.5V120.5h-3.5zM852.76 109.4h3.5V134.5h-3.5zM860.62 124.6h3.5V151.9h-3.5zM872.40 122.1h3.5V132.1h-3.5zM876.32 131.6h3.5V147.8h-3.5zM884.18 122.1h3.5V148.6h-3.5zM888.10 150.3h3.5V151.9h-3.5zM892.03 151.4h3.5V161.3h-3.5zM895.96 161.0h3.5V201.5h-3.5zM899.88 201.2h3.5V224.7h-3.5zM903.81 224.3h3.5V276.8h-3.5zM919.52 210.6h3.5V229.6h-3.5zM923.45 229.3h3.5V247.0h-3.5zM931.30 244.9h3.5V263.6h-3.5zM935.23 263.6h3.5V265.2h-3.5zM939.16 264.7h3.5V293.9h-3.5zM950.94 261.1h3.5V279.0h-3.5zM958.79 276.3h3.5V283.9h-3.5zM966.64 237.6h3.5V243.7h-3.5zM970.57 243.2h3.5V275.6h-3.5zM978.43 250.3h3.5V267.7h-3.5zM982.35 266.9h3.5V294.2h-3.5zM986.28 287.2h3.5V327.2h-3.5zM990.21 326.7h3.5V349.6h-3.5zM1001.99 288.9h3.5V299.1h-3.5zM1021.62 213.1h3.5V233.8h-3.5zM1025.55 233.8h3.5V244.9h-3.5zM1033.40 229.3h3.5V240.4h-3.5zM1041.26 223.4h3.5V249.5h-3.5zM1045.18 247.0h3.5V256.9h-3.5zM1049.11 256.1h3.5V261.9h-3.5zM1056.96 250.3h3.5V273.5h-3.5zM1064.82 249.2h3.5V259.1h-3.5zM1068.75 259.1h3.5V302.8h-3.5zM1076.60 295.0h3.5V344.6h-3.5zM1080.53 344.6h3.5V349.6h-3.5zM1096.23 290.5h3.5V316.5h-3.5zM1108.02 292.9h3.5V295.0h-3.5zM1123.72 252.8h3.5V263.6h-3.5zM1127.65 263.6h3.5V282.3h-3.5zM1131.58 282.3h3.5V287.2h-3.5zM1139.43 261.9h3.5V267.4h-3.5zM1147.29 260.3h3.5V274.3h-3.5zM1155.14 261.1h3.5V280.1h-3.5zM1159.07 279.8h3.5V304.6h-3.5zM1162.99 301.3h3.5V335.7h-3.5zM1170.85 334.1h3.5V353.4h-3.5zM1178.70 307.9h3.5V331.1h-3.5zM1186.56 319.8h3.5V384.9h-3.5zM1190.48 384.4h3.5V429.5h-3.5zM1210.12 346.8h3.5V365.8h-3.5zM1217.97 351.3h3.5V353.4h-3.5zM1221.90 350.1h3.5V360.5h-3.5zM1225.83 359.5h3.5V363.9h-3.5zM1241.53 296.3h3.5V307.6h-3.5zM1253.31 265.7h3.5V279.5h-3.5zM1257.24 278.5h3.5V295.5h-3.5zM1265.10 289.4h3.5V291.0h-3.5zM1269.02 290.0h3.5V300.5h-3.5zM1276.88 280.6h3.5V323.6h-3.5zM1280.80 323.1h3.5V335.7h-3.5zM1284.73 335.2h3.5V353.9h-3.5zM1292.59 321.5h3.5V398.9h-3.5zM1296.51 398.9h3.5V401.0h-3.5zM1304.37 372.9h3.5V375.2h-3.5zM1308.29 375.2h3.5V438.6h-3.5zM1312.22 438.6h3.5V453.0h-3.5zM1320.07 434.8h3.5V436.1h-3.5zM1335.78 401.4h3.5V422.6h-3.5zM1339.71 419.9h3.5V441.4h-3.5zM1343.64 441.1h3.5V449.4h-3.5zM1347.56 449.4h3.5V469.5h-3.5zM1351.49 469.2h3.5V473.4h-3.5zM1359.34 467.2h3.5V475.5h-3.5zM1363.27 475.0h3.5V481.6h-3.5zM1367.20 481.0h3.5V490.9h-3.5zM1375.05 481.0h3.5V508.6h-3.5zM1382.91 494.9h3.5V503.6h-3.5zM1386.83 502.8h3.5V520.2h-3.5zM1398.61 505.3h3.5V515.7h-3.5zM1414.32 471.0h3.5V507.4h-3.5zM1418.25 506.5h3.5V519.0h-3.5zM1433.96 434.8h3.5V444.7h-3.5zM1441.81 422.1h3.5V428.7h-3.5zM1457.52 387.6h3.5V408.7h-3.5zM1469.30 376.0h3.5V385.9h-3.5zM1477.15 364.4h3.5V367.4h-3.5zM1492.86 315.1h3.5V328.8h-3.5zM1496.79 328.0h3.5V340.9h-3.5zM1500.72 339.6h3.5V360.8h-3.5zM1508.57 352.8h3.5V357.8h-3.5zM1512.50 356.9h3.5V376.8h-3.5zM1516.42 380.9h3.5V403.8h-3.5zM1524.28 397.2h3.5V415.7h-3.5zM1528.20 414.9h3.5V445.9h-3.5zM1551.77 359.8h3.5V387.6h-3.5zM1555.69 381.3h3.5V383.9h-3.5zM1563.55 382.3h3.5V385.1h-3.5zM1571.40 376.2h3.5V379.2h-3.5z" fill="#ef5350"/>
</g>
<path d="M11.5 765.6H1799.3" stroke="#585b66" stroke-width="1.4"/>
<path d="M1706.3 8.6V805.2" stroke="#585b66" stroke-width="1.4"/>
<text y="35.6" class="t" font-size="17.6"><tspan x="1721.09" textLength="61.60" lengthAdjust="spacingAndGlyphs" fill="#4f525d">1.44000</tspan></text>
<text y="118.3" class="t" font-size="17.6"><tspan x="1721.09" textLength="61.60" lengthAdjust="spacingAndGlyphs" fill="#4f525d">1.42000</tspan></text>
<text y="199.0" class="t" font-size="17.6"><tspan x="1721.09" textLength="61.60" lengthAdjust="spacingAndGlyphs" fill="#4f525d">1.40000</tspan></text>
<text y="281.5" class="t" font-size="17.6"><tspan x="1721.09" textLength="61.60" lengthAdjust="spacingAndGlyphs" fill="#4f525d">1.38000</tspan></text>
<text y="362.7" class="t" font-size="17.6"><tspan x="1721.09" textLength="61.60" lengthAdjust="spacingAndGlyphs" fill="#4f525d">1.36000</tspan></text>
<text y="445.2" class="t" font-size="17.6"><tspan x="1721.09" textLength="61.60" lengthAdjust="spacingAndGlyphs" fill="#4f525d">1.34000</tspan></text>
<text y="526.0" class="t" font-size="17.6"><tspan x="1721.09" textLength="61.60" lengthAdjust="spacingAndGlyphs" fill="#4f525d">1.32000</tspan></text>
<text y="608.7" class="t" font-size="17.6"><tspan x="1721.09" textLength="61.60" lengthAdjust="spacingAndGlyphs" fill="#4f525d">1.30000</tspan></text>
<text y="689.4" class="t" font-size="17.6"><tspan x="1721.09" textLength="61.60" lengthAdjust="spacingAndGlyphs" fill="#4f525d">1.28000</tspan></text>
<g clip-path="url(#d)"><text x="-2.50" y="791.9" class="t" font-size="17.6" fill="#4f525d">Ago</text></g>
<text y="791.9" class="t" font-size="17.6"><tspan x="169.37" textLength="26.08" lengthAdjust="spacingAndGlyphs" fill="#4f525d">Ott</tspan> <tspan x="299.00" textLength="18.80" lengthAdjust="spacingAndGlyphs" fill="#4f525d">16</tspan> <tspan x="417.80" textLength="39.09" lengthAdjust="spacingAndGlyphs" fill="#4f525d" font-weight="bold">2021</tspan> <tspan x="578.68" textLength="30.63" lengthAdjust="spacingAndGlyphs" fill="#4f525d">Mar</tspan> <tspan x="743.25" textLength="55.74" lengthAdjust="spacingAndGlyphs" fill="#4f525d">Maggio</tspan> <tspan x="926.15" textLength="28.43" lengthAdjust="spacingAndGlyphs" fill="#4f525d">Lug</tspan> <tspan x="1099.94" textLength="25.43" lengthAdjust="spacingAndGlyphs" fill="#4f525d">Set</tspan> <tspan x="1266.78" textLength="29.56" lengthAdjust="spacingAndGlyphs" fill="#4f525d">Nov</tspan> <tspan x="1438.37" textLength="41.20" lengthAdjust="spacingAndGlyphs" fill="#4f525d" font-weight="bold">2022</tspan> <tspan x="1603.91" textLength="30.10" lengthAdjust="spacingAndGlyphs" fill="#4f525d">Mar</tspan></text>
<text y="36.9" class="t" font-size="17.6"><tspan x="22.59" textLength="60.32" lengthAdjust="spacingAndGlyphs" fill="#4f525d">Sterlina</tspan> <tspan x="90.90" textLength="4.22" lengthAdjust="spacingAndGlyphs" fill="#4f525d">/</tspan> <tspan x="103.43" textLength="63.26" lengthAdjust="spacingAndGlyphs" fill="#4f525d">Dollaro,</tspan> <tspan x="172.77" textLength="24.82" lengthAdjust="spacingAndGlyphs" fill="#4f525d">1D,</tspan> <tspan x="204.02" textLength="42.42" lengthAdjust="spacingAndGlyphs" fill="#4f525d">FXCM</tspan> <tspan x="256.87" textLength="11.52" lengthAdjust="spacingAndGlyphs" fill="#4f525d">O</tspan> <tspan x="275.25" textLength="4.27" lengthAdjust="spacingAndGlyphs" fill="#4f525d">-</tspan> <tspan x="286.40" textLength="39.33" lengthAdjust="spacingAndGlyphs" fill="#4f525d">Aper.</tspan> <tspan x="326.99" textLength="61.44" lengthAdjust="spacingAndGlyphs" fill="#ef5350">1.35538</tspan> <tspan x="399.25" textLength="11.48" lengthAdjust="spacingAndGlyphs" fill="#4f525d">H</tspan> <tspan x="417.16" textLength="4.96" lengthAdjust="spacingAndGlyphs" fill="#4f525d">-</tspan> <tspan x="427.03" textLength="37.27" lengthAdjust="spacingAndGlyphs" fill="#4f525d">Max.</tspan> <tspan x="465.91" textLength="60.71" lengthAdjust="spacingAndGlyphs" fill="#ef5350">1.36095</tspan> <tspan x="537.26" textLength="8.72" lengthAdjust="spacingAndGlyphs" fill="#4f525d">L</tspan> <tspan x="552.88" textLength="4.83" lengthAdjust="spacingAndGlyphs" fill="#4f525d">-</tspan> <tspan x="562.56" textLength="34.18" lengthAdjust="spacingAndGlyphs" fill="#4f525d">Min.</tspan> <tspan x="598.00" textLength="61.02" lengthAdjust="spacingAndGlyphs" fill="#ef5350">1.35136</tspan> <tspan x="670.17" textLength="9.25" lengthAdjust="spacingAndGlyphs" fill="#4f525d">C</tspan> <tspan x="686.58" textLength="4.83" lengthAdjust="spacingAndGlyphs" fill="#4f525d">-</tspan> <tspan x="697.23" textLength="48.13" lengthAdjust="spacingAndGlyphs" fill="#4f525d">Chius.</tspan> <tspan x="746.31" textLength="60.71" lengthAdjust="spacingAndGlyphs" fill="#ef5350">1.35477</tspan> <tspan x="819.00" textLength="69.43" lengthAdjust="spacingAndGlyphs" fill="#ef5350">−0.00061</tspan> <tspan x="895.59" textLength="65.76" lengthAdjust="spacingAndGlyphs" fill="#ef5350">(−0.05%)</tspan></text>
<text y="61.9" class="t" font-size="17.6"><tspan x="22.28" textLength="23.14" lengthAdjust="spacingAndGlyphs" fill="#4f525d">MA</tspan> <tspan x="52.22" textLength="39.25" lengthAdjust="spacingAndGlyphs" fill="#4f525d">(200,</tspan> <tspan x="97.35" textLength="45.97" lengthAdjust="spacingAndGlyphs" fill="#4f525d">close,</tspan> <tspan x="149.03" textLength="16.05" lengthAdjust="spacingAndGlyphs" fill="#4f525d">0)</tspan> <tspan x="175.79" textLength="61.54" lengthAdjust="spacingAndGlyphs" fill="#f23645">1.36985</tspan></text>
<text y="87.0" class="t" font-size="17.6"><tspan x="22.28" textLength="23.14" lengthAdjust="spacingAndGlyphs" fill="#4f525d">MA</tspan> <tspan x="52.20" textLength="30.27" lengthAdjust="spacingAndGlyphs" fill="#4f525d">(50,</tspan> <tspan x="88.35" textLength="45.97" lengthAdjust="spacingAndGlyphs" fill="#4f525d">close,</tspan> <tspan x="140.04" textLength="15.83" lengthAdjust="spacingAndGlyphs" fill="#4f525d">0)</tspan> <tspan x="166.48" textLength="62.16" lengthAdjust="spacingAndGlyphs" fill="#2962ff">1.34595</tspan></text>
<g fill="#131722"><path d="M11.3 825H23V838.9H16.9V831.1H11.3Z"/><circle cx="27.7" cy="827.9" r="3.1"/><path d="M32.3 825H39.9L35.3 838.9H27.7Z"/></g>
<text y="839.1" class="t" font-size="19.2"><tspan x="45.31" textLength="102.78" lengthAdjust="spacingAndGlyphs" fill="#1e222d">TradingView</tspan></text>
</svg>
</body></html>
